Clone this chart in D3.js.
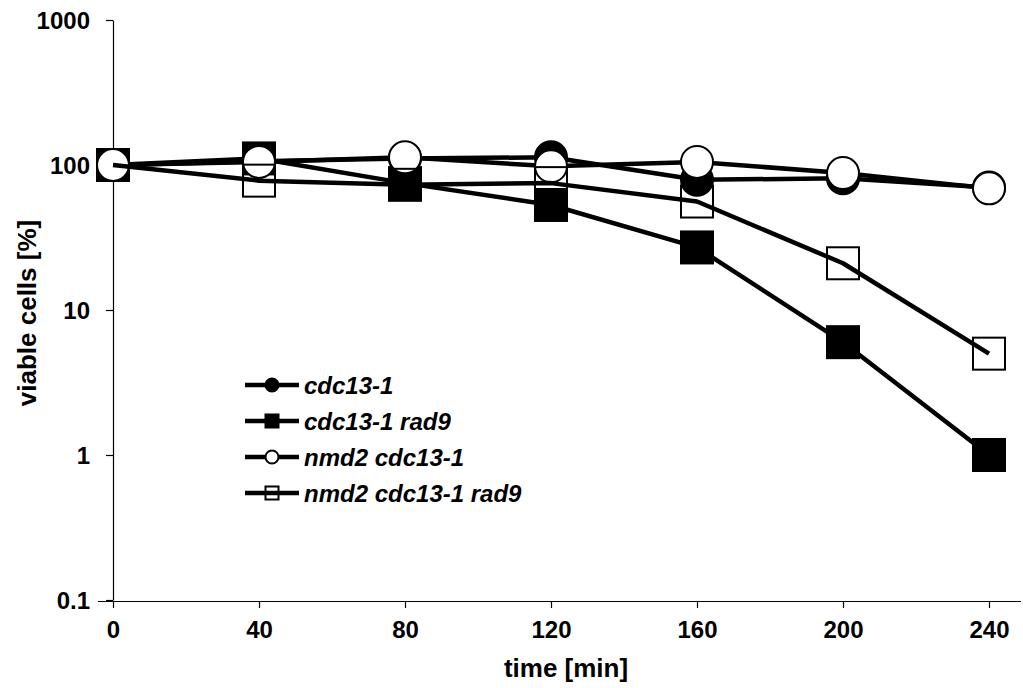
<!DOCTYPE html>
<html><head><meta charset="utf-8">
<script src="https://cdn.jsdelivr.net/npm/d3@7"></script>
<style>body{margin:0;background:#fff}svg{display:block}text{font-family:"Liberation Sans",Arial,sans-serif;font-weight:bold;fill:#000}</style>
</head><body><svg id="c" width="1023" height="688"></svg>
<script>
const times = [0, 40, 80, 120, 160, 200, 240];
const yTicks = [0.1, 1, 10, 100, 1000];
const seriesNames = ["cdc13-1", "cdc13-1 rad9", "nmd2 cdc13-1", "nmd2 cdc13-1 rad9"];
const cdc13 = [100, 106, 111, 113, 79, 81, 70];
const cdc13rad9 = [100, 111, 75, 53, 27, 6, 1];
const nmd2cdc13 = [100, 105, 113, 98, 105, 88, 69];
const nmd2cdc13rad9 = [100, 78, 73, 75, 56, 21, 5];
const seriesValues = [cdc13, cdc13rad9, nmd2cdc13, nmd2cdc13rad9];
const markerShape = ["circle", "square", "circle", "square"];
const markerFill = ["#000", "#000", "#fff", "none"];

const svg = d3.select("#c");
const x = d3.scaleLinear().domain([0, 240]).range([113, 989]);
const y = d3.scaleLog().domain([0.1, 1000]).range([600, 20]);

// axes
const yAx = svg.append("g").attr("transform", "translate(113,0)")
  .call(d3.axisLeft(y).tickValues(yTicks).tickFormat(d => d3.format("~g")(d)).tickSize(7).tickPadding(16).tickSizeOuter(0));
yAx.select(".domain").attr("stroke", "#000").attr("stroke-width", 1.2);
yAx.selectAll(".tick line").attr("stroke-width", 1.2);
yAx.selectAll("text").style("font-size", "24px").attr("dy", "0.35em");

const xAx = svg.append("g").attr("transform", "translate(0,601)")
  .call(d3.axisBottom(x).tickValues(times).tickSize(7).tickPadding(13).tickSizeOuter(0));
xAx.select(".domain").attr("stroke", "#000").attr("stroke-width", 1.2).attr("d", "M98,0.5H1021");
xAx.selectAll(".tick line").attr("stroke-width", 1.2);
xAx.selectAll("text").style("font-size", "24px");

svg.append("text").attr("x", 566).attr("y", 677).attr("text-anchor", "middle").style("font-size", "26px").text("time [min]");
svg.append("text").attr("transform", "translate(36,313) rotate(-90)").attr("text-anchor", "middle").style("font-size", "26px").text("viable cells [%]");

const line = d3.line().x((d, i) => x(times[i])).y(d => y(d));
function drawMarker(g, shape, fill, cx, cy, size) {
  if (shape === "circle") {
    g.append("circle").attr("cx", cx).attr("cy", cy).attr("r", size / 2)
      .attr("fill", fill).attr("stroke", "#000").attr("stroke-width", 2);
  } else {
    g.append("rect").attr("x", cx - size / 2).attr("y", cy - size / 2).attr("width", size).attr("height", size)
      .attr("fill", fill).attr("stroke", "#000").attr("stroke-width", 2);
  }
}
seriesValues.forEach((vals, s) => {
  const g = svg.append("g");
  g.append("path").datum(vals).attr("d", line).attr("fill", "none").attr("stroke", "#000").attr("stroke-width", 4.5).attr("stroke-linejoin", "round");
  vals.forEach((v, i) => drawMarker(g, markerShape[s], markerFill[s], x(times[i]), y(v), 32));
});

// legend
const legY = [385, 421, 457, 493];
seriesNames.forEach((n, s) => {
  const g = svg.append("g");
  g.append("line").attr("x1", 245).attr("x2", 299).attr("y1", legY[s]).attr("y2", legY[s]).attr("stroke", "#000").attr("stroke-width", 4.5);
  drawMarker(g, markerShape[s], markerFill[s], 272, legY[s], 13);
  g.append("text").attr("x", 304).attr("y", legY[s]).attr("dy", "0.36em").style("font-size", "24px").style("font-style", "italic").text(n);
});
</script></body></html>
